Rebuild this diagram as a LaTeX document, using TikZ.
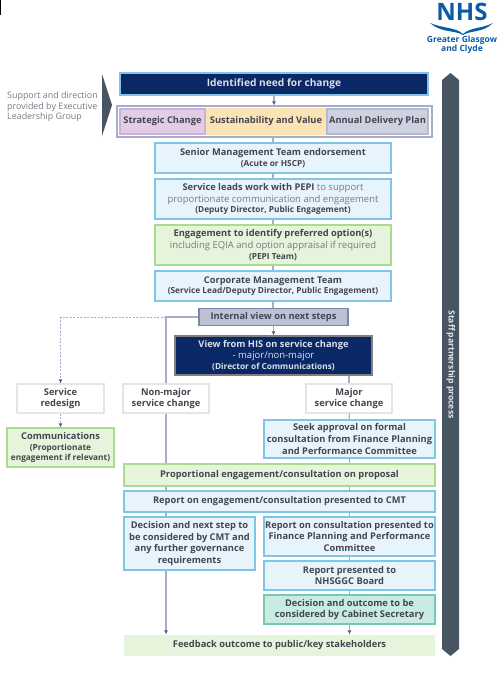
\documentclass[tikz,border=0pt]{standalone}
\usepackage{fontspec}
\setmainfont{Open Sans}
\usetikzlibrary{arrows.meta}
\definecolor{navy}{HTML}{0A2865}
\definecolor{slate}{HTML}{465561}
\definecolor{inktext}{HTML}{42464F}
\definecolor{softtext}{HTML}{767A82}
\definecolor{linkline}{HTML}{A6ADC8}
\definecolor{linktip}{HTML}{4F5E8C}
\definecolor{nhsblue}{HTML}{0B5AA5}
\definecolor{skyline}{HTML}{7FC6E6}
\definecolor{skyfill}{HTML}{E8F4FC}
\definecolor{leafline}{HTML}{A8DC90}
\definecolor{leaffill}{HTML}{E6F4DC}
\definecolor{plumline}{HTML}{C9B2D9}
\definecolor{plumfill}{HTML}{E2CCE6}
\definecolor{sandfill}{HTML}{FBE3B5}
\definecolor{mistline}{HTML}{B5BACF}
\definecolor{mistfill}{HTML}{CDD1E0}
\definecolor{tealline}{HTML}{74C9B3}
\definecolor{tealfill}{HTML}{C8EBE2}
\newcommand{\subline}[1]{{\fontsize{8.3}{9}\selectfont #1}}
\newcommand{\softline}[1]{{\fontsize{9.5}{11.6}\selectfont\mdseries\color{softtext} #1}}
\tikzset{
  flowbox/.style={draw,line width=1.2pt,align=center,inner sep=0pt,text=inktext,
    font=\fontsize{9.3}{11.6}\selectfont\bfseries},
  bluebox/.style={flowbox,draw=skyline,fill=skyfill},
  greenbox/.style={flowbox,draw=leafline,fill=leaffill},
  whitebox/.style={flowbox,draw=black!10,fill=white},
  link/.style={draw=linkline,line width=1.2pt},
  linktipped/.style={link,-{Latex[length=4pt,width=4pt,color=linktip]}},
  dashlink/.style={linktipped,line width=1pt,dash pattern=on 2pt off 1.5pt},
}
\begin{document}
\begin{tikzpicture}[x=1pt,y=-1pt]
\useasboundingbox (0,0) rectangle (502,674);
\fill[black] (0,0) rectangle (1,15);

% logo
\node[text=nhsblue,font=\fontsize{24}{24}\selectfont\bfseries] (logoname) at (462,12) {NHS};
\fill[nhsblue] (430,23) .. controls (445,29) and (455,27) .. (463,34)
  .. controls (471,27) and (481,29) .. (493,23)
  .. controls (483,33) and (471,30) .. (463,35)
  .. controls (455,30) and (441,33) .. (430,23);
\node[text=nhsblue,align=center,font=\fontsize{8.5}{9}\selectfont\bfseries] (logotext) at (462,45) {Greater Glasgow\\and Clyde};

% side shapes
\fill[slate] (102,74) -- (112,105) -- (102,136) -- cycle;
\node[text=softtext,align=left,anchor=west,inner sep=0pt,font=\fontsize{8.9}{10.4}\selectfont] (support) at (7,107) {Support and direction\\provided by Executive\\Leadership Group};
\fill[slate] (442,80) -- (450.5,73) -- (459,80) -- (459,649) -- (450.5,656) -- (442,649) -- cycle;
\node[text=white!85!slate,rotate=-90,font=\fontsize{8.6}{10}\selectfont\bfseries] (staff) at (451,364.5) {Staff partnership process};

% top
\node[flowbox,draw=skyline,fill=navy,text=white!85!navy,minimum width=308,minimum height=22,font=\fontsize{10.2}{11}\selectfont\bfseries] (need) at (274,84) {Identified need for change};
\node[draw=linkline,fill=white,line width=1.2pt,minimum width=315,minimum height=31,inner sep=0pt] (group) at (274.5,121.5) {};
\node[flowbox,draw=plumline,fill=plumfill,minimum width=85,minimum height=25] (strategic) at (162.5,121.5) {Strategic Change};
\node[flowbox,draw=sandfill,fill=sandfill,minimum width=118,minimum height=25] (sustain) at (266,121.5) {Sustainability and Value};
\node[flowbox,draw=mistline,fill=mistfill,minimum width=101,minimum height=25] (annual) at (377.5,121.5) {Annual Delivery Plan};

% main column
\node[bluebox,minimum width=236,minimum height=30] (senior) at (273,158) {Senior Management Team endorsement\\[-1pt]\subline{(Acute or HSCP)}};
\node[bluebox,minimum width=236,minimum height=40] (leads) at (273,199) {Service leads work with PEPI \softline{to support}\\\softline{proportionate communication and engagement}\\[-1pt]\subline{(Deputy Director, Public Engagement)}};
\node[greenbox,minimum width=236,minimum height=40] (option) at (273,245) {Engagement to identify preferred option(s)\\\softline{including EQIA and option appraisal if required}\\[-1pt]\subline{(PEPI Team)}};
\node[bluebox,minimum width=236,minimum height=30] (corporate) at (273,286) {Corporate Management Team\\[-1pt]\subline{(Service Lead/Deputy Director, Public Engagement)}};
\node[flowbox,draw=linktip!75,fill=linkline!75,minimum width=149,minimum height=17] (internal) at (273.5,317) {Internal view on next steps};
\node[flowbox,draw=gray,fill=navy,text=white!85!navy,minimum width=197,minimum height=39] (his) at (273.5,355.5) {View from HIS on service change\\{\fontsize{9.5}{11.6}\selectfont\mdseries - major/non-major}\\[-1pt]\subline{(Director of Communications)}};

% three routes
\node[whitebox,minimum width=87,minimum height=29] (redesign) at (60.5,398.5) {Service\\redesign};
\node[whitebox,minimum width=86,minimum height=29] (nonmajor) at (166,398.5) {Non-major\\service change};
\node[whitebox,minimum width=86,minimum height=29] (major) at (349,398.5) {Major\\service change};
\node[greenbox,minimum width=107,minimum height=39] (comms) at (60.5,447.5) {Communications\\[-1pt]\subline{(Proportionate}\\[-1pt]\subline{engagement if relevant)}};
\node[bluebox,minimum width=171,minimum height=38] (seek) at (349.5,439) {Seek approval on formal\\consultation from Finance Planning\\and Performance Committee};

% lower part
\node[greenbox,minimum width=311,minimum height=22] (proposal) at (279.5,475) {Proportional engagement/consultation on proposal};
\node[bluebox,minimum width=311,minimum height=21] (reportcmt) at (279.5,501.5) {Report on engagement/consultation presented to CMT};
\node[bluebox,minimum width=131,minimum height=53] (decision) at (189.5,543.5) {Decision and next step to\\be considered by CMT and\\any further governance\\requirements};
\node[bluebox,minimum width=171,minimum height=39] (reportfin) at (349.5,536.5) {Report on consultation presented to\\Finance Planning and Performance\\Committee};
\node[bluebox,minimum width=171,minimum height=29] (board) at (349.5,575.5) {Report presented to\\NHSGGC Board};
\node[flowbox,draw=tealline,fill=tealfill,minimum width=171,minimum height=29] (cabinet) at (349.5,609.5) {Decision and outcome to be\\considered by Cabinet Secretary};
\node[flowbox,draw=none,fill=leaffill,minimum width=311,minimum height=21] (feedback) at (279.5,645.5) {Feedback outcome to public/key stakeholders};

% connectors
\draw[linktipped] (need) -- (group.north -| need);
\draw[link] (group.south -| senior) -- (senior);
\draw[link] (senior) -- (leads);
\draw[link] (leads) -- (option);
\draw[link] (option) -- (corporate);
\draw[link] (corporate) -- (internal.north -| corporate);
\draw[linktipped] (internal) -- (his);
\draw[link] (internal.west) -| (nonmajor.north);
\draw[dashlink] (nonmajor.north |- internal.west) -| (redesign.north);
\draw[link] (his.south -| major) -- (major);
\draw[link] (major) -- (seek);
\draw[link] (seek) -- (proposal.north -| seek);
\draw[link] (nonmajor) -- (proposal.north -| nonmajor);
\draw[link] (proposal.south -| nonmajor) -- (reportcmt.north -| nonmajor);
\draw[link] (proposal.south -| seek) -- (reportcmt.north -| seek);
\draw[link] (reportcmt.south -| nonmajor) -- (decision.north -| nonmajor);
\draw[link] (reportcmt.south -| seek) -- (reportfin);
\draw[link] (reportfin) -- (board);
\draw[link] (board) -- (cabinet);
\draw[linktipped] (cabinet) -- (feedback.north -| cabinet);
\draw[linktipped] (decision.south -| nonmajor) -- (feedback.north -| nonmajor);
\draw[dashlink] (redesign) -- (comms);
\end{tikzpicture}
\end{document}
